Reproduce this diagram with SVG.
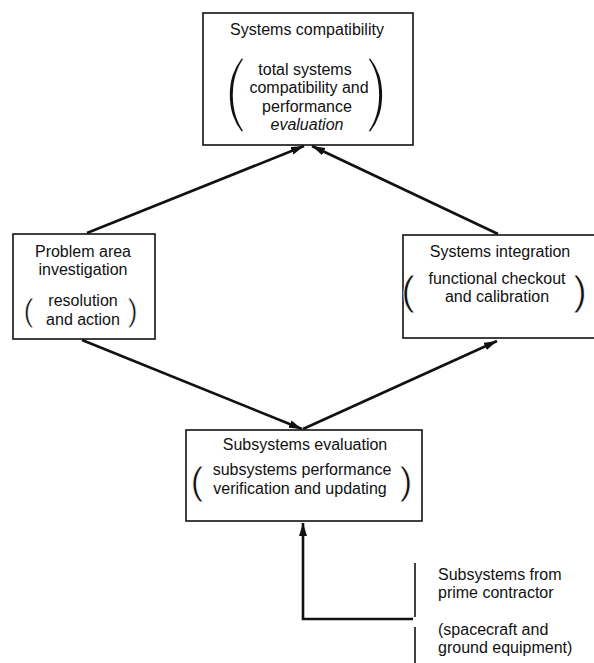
<svg xmlns="http://www.w3.org/2000/svg" width="594" height="663" viewBox="0 0 594 663">
<style>
.box{fill:#fff;stroke:#111;stroke-width:1.6}
.t{font-family:"Liberation Sans",Arial,sans-serif;font-size:16px;fill:#111;text-anchor:middle}
.l{font-family:"Liberation Sans",Arial,sans-serif;font-size:16px;fill:#111}
.pb{font-family:"Liberation Sans",Arial,sans-serif;fill:#111;text-anchor:middle;stroke:#fff;stroke-width:3.6;stroke-linejoin:round}
.ps{font-family:"Liberation Sans",Arial,sans-serif;fill:#111;text-anchor:middle;stroke:#fff;stroke-width:0.8;stroke-linejoin:round}
.c{fill:none;stroke:#111;stroke-width:2.6}
.bar{fill:none;stroke:#111;stroke-width:1.6}
</style>
<defs>
<marker id="ah" markerUnits="userSpaceOnUse" markerWidth="14" markerHeight="10" refX="13" refY="4" orient="auto">
<path d="M0,0 L13,4 L0,8 z" fill="#111"/>
</marker>
</defs>
<rect width="594" height="663" fill="#fff"/>

<g id="connectors">
<line class="c" x1="87" y1="233" x2="304" y2="146" marker-end="url(#ah)"/>
<line class="c" x1="498" y1="234" x2="312" y2="146" marker-end="url(#ah)"/>
<line class="c" x1="82" y1="340" x2="302" y2="429" marker-end="url(#ah)"/>
<line class="c" x1="303" y1="429" x2="497" y2="341" marker-end="url(#ah)"/>
<polyline class="c" points="413,619 303,619 303,523" marker-end="url(#ah)"/>
</g>

<g id="systems-compatibility">
<rect class="box" x="203" y="13" width="210" height="132"/>
<text class="t" x="307" y="35">Systems compatibility</text>
<text class="pb" font-size="81" transform="translate(235.5,116) scale(0.85,1)">(</text>
<text class="pb" font-size="81" transform="translate(376.5,116) scale(0.85,1)">)</text>
<text class="t" x="305" y="75">total systems</text>
<text class="t" x="309" y="93">compatibility and</text>
<text class="t" x="307" y="112">performance</text>
<text class="t" x="307" y="130" font-style="italic">evaluation</text>
</g>

<g id="problem-area">
<rect class="box" x="13" y="234" width="142" height="105"/>
<text class="t" x="83" y="257">Problem area</text>
<text class="t" x="83" y="275">investigation</text>
<text class="ps" font-size="32" x="28.5" y="321">(</text>
<text class="ps" font-size="32" x="132.5" y="321">)</text>
<text class="t" x="83" y="306">resolution</text>
<text class="t" x="83" y="325">and action</text>
</g>

<g id="systems-integration">
<rect class="box" x="403" y="235" width="193" height="103"/>
<text class="t" x="500" y="257">Systems integration</text>
<text class="ps" font-size="41" x="408" y="305">(</text>
<text class="ps" font-size="41" x="580" y="305">)</text>
<text class="t" x="497" y="284">functional checkout</text>
<text class="t" x="497" y="302">and calibration</text>
</g>

<g id="subsystems-evaluation">
<rect class="box" x="186" y="430" width="236" height="91"/>
<text class="t" x="305" y="450">Subsystems evaluation</text>
<text class="ps" font-size="39" x="197" y="494">(</text>
<text class="ps" font-size="39" x="406" y="494">)</text>
<text class="t" x="302" y="475">subsystems performance</text>
<text class="t" x="300" y="494">verification and updating</text>
</g>

<g id="prime-contractor">
<line class="bar" x1="415" y1="563" x2="415" y2="617"/>
<line class="bar" x1="415" y1="627" x2="415" y2="663"/>
<text class="l" x="438" y="580">Subsystems from</text>
<text class="l" x="438" y="598">prime contractor</text>
<text class="l" x="438" y="635">(spacecraft and</text>
<text class="l" x="438" y="653">ground equipment)</text>
</g>
</svg>
